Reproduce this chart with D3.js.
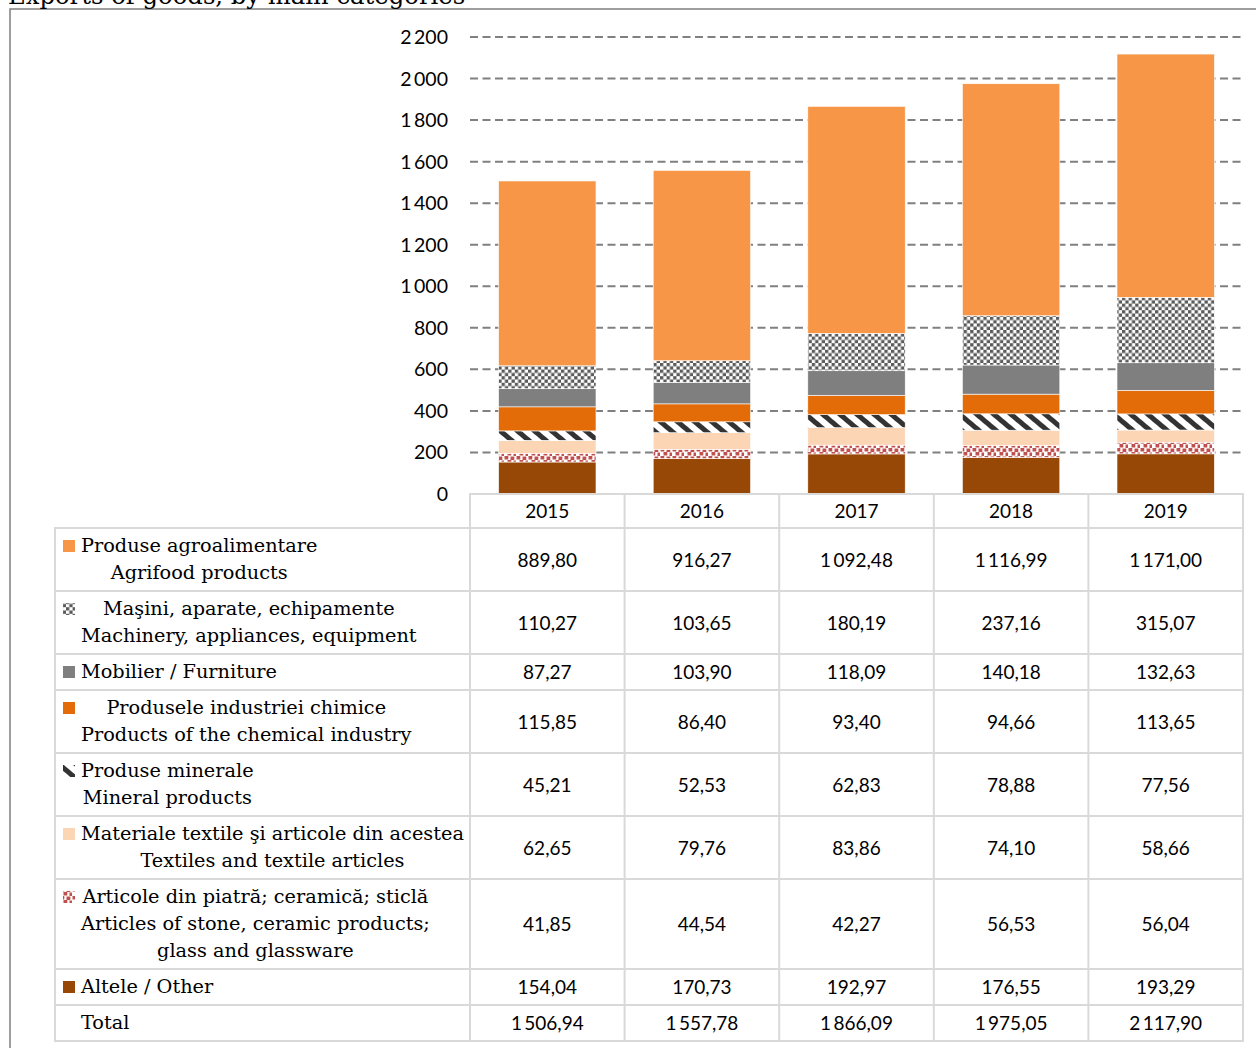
<!DOCTYPE html>
<html>
<head>
<meta charset="utf-8">
<script src="https://cdn.jsdelivr.net/npm/d3@7"></script>
<style>
  body { margin: 0; background: #fff; }
  svg { display: block; }
</style>
</head>
<body>
<svg id="chart"></svg>
<script>
// data
const years = ["2015", "2016", "2017", "2018", "2019"];
const agrifood  = [889.80, 916.27, 1092.48, 1116.99, 1171.00];
const machinery = [110.27, 103.65, 180.19, 237.16, 315.07];
const furniture = [87.27, 103.90, 118.09, 140.18, 132.63];
const chemical  = [115.85, 86.40, 93.40, 94.66, 113.65];
const mineral   = [45.21, 52.53, 62.83, 78.88, 77.56];
const textile   = [62.65, 79.76, 83.86, 74.10, 58.66];
const stone     = [41.85, 44.54, 42.27, 56.53, 56.04];
const other     = [154.04, 170.73, 192.97, 176.55, 193.29];
const totals    = [1506.94, 1557.78, 1866.09, 1975.05, 2117.90];
const yTicks = [0, 200, 400, 600, 800, 1000, 1200, 1400, 1600, 1800, 2000, 2200];

// series, in table order (top row first)
const series = [
  { key: "agrifood",  values: agrifood,  fill: "#F79646", lines: ["Produse agroalimentare", "Agrifood products"] },
  { key: "machinery", values: machinery, fill: "url(#pChecker)", lines: ["Maşini, aparate, echipamente", "Machinery, appliances, equipment"] },
  { key: "furniture", values: furniture, fill: "#7F7F7F", lines: ["Mobilier / Furniture"] },
  { key: "chemical",  values: chemical,  fill: "#E36C09", lines: ["Produsele industriei chimice", "Products of the chemical industry"] },
  { key: "mineral",   values: mineral,   fill: "url(#pStripe)", lines: ["Produse minerale", "Mineral products"] },
  { key: "textile",   values: textile,   fill: "#FCD5B5", lines: ["Materiale textile şi articole din acestea", "Textiles and textile articles"] },
  { key: "stone",     values: stone,     fill: "url(#pDots)", lines: ["Articole din piatră; ceramică; sticlă", "Articles of stone, ceramic products;", "glass and glassware"] },
  { key: "other",     values: other,     fill: "#974706", lines: ["Altele / Other"] }
];

const W = 1256, H = 1048;
const svg = d3.select("#chart").attr("width", W).attr("height", H);

const serif = "'DejaVu Serif', serif";
const sans = "Lato, 'Open Sans', sans-serif";

const loc = d3.formatLocale({ decimal: ",", thousands: "\u2009", grouping: [3] });
const fmtVal = loc.format(",.2f");
const fmtTick = loc.format(",d");

// patterns
const defs = svg.append("defs");
const pc = defs.append("pattern").attr("id", "pChecker")
  .attr("patternUnits", "userSpaceOnUse").attr("width", 6.6).attr("height", 6.6);
pc.append("rect").attr("width", 6.6).attr("height", 6.6).attr("fill", "#fff");
pc.append("rect").attr("width", 3.3).attr("height", 3.3).attr("fill", "#5a5a5a");
pc.append("rect").attr("x", 3.3).attr("y", 3.3).attr("width", 3.3).attr("height", 3.3).attr("fill", "#5a5a5a");

const ps = defs.append("pattern").attr("id", "pStripe")
  .attr("patternUnits", "userSpaceOnUse").attr("width", 11).attr("height", 11)
  .attr("patternTransform", "rotate(-50)");
ps.append("rect").attr("width", 11).attr("height", 11).attr("fill", "#fff");
ps.append("rect").attr("width", 5).attr("height", 11).attr("fill", "#333");

const pd = defs.append("pattern").attr("id", "pDots")
  .attr("patternUnits", "userSpaceOnUse").attr("width", 12).attr("height", 8);
pd.append("rect").attr("width", 12).attr("height", 8).attr("fill", "#fff");
[[0.5, 0], [6.5, 0.5], [3.5, 4], [9.5, 4.5]].forEach(p => {
  pd.append("rect").attr("x", p[0]).attr("y", p[1]).attr("width", 3.8).attr("height", 3.5).attr("fill", "#C0504D");
});

// outer frame and title (the title is cut at the top edge, as in the source)
svg.append("rect").attr("x", 10).attr("y", 9).attr("width", 1400).attr("height", 1200)
  .attr("fill", "none").attr("stroke", "#7f7f7f").attr("stroke-width", 1.5);
svg.append("text").attr("x", 8).attr("y", 4)
  .style("font-family", serif).style("font-size", "24.3px")
  .text("Exports of goods, by main categories");

// scales
const x = d3.scaleBand().domain(years).range([470, 1243]);
const y = d3.scaleLinear().domain([0, 2200]).range([494, 37]);

// gridlines
svg.append("g").selectAll("line")
  .data(yTicks.filter(d => d > 0))
  .join("line")
    .attr("x1", 470).attr("x2", 1243)
    .attr("y1", d => y(d)).attr("y2", d => y(d))
    .attr("stroke", "#808080").attr("stroke-width", 2)
    .attr("stroke-dasharray", "8,4.5");

// y tick labels
svg.append("g").selectAll("text")
  .data(yTicks)
  .join("text")
    .attr("x", 448).attr("y", d => y(d) + 7)
    .attr("text-anchor", "end")
    .style("font-family", sans).style("font-size", "19.5px")
    .text(d => fmtTick(d));

// stacked bars
const rows = years.map((yr, i) => {
  const o = { year: yr };
  series.forEach(s => o[s.key] = s.values[i]);
  return o;
});
const stackKeys = series.map(s => s.key).reverse();
const stacked = d3.stack().keys(stackKeys)(rows);
const fillOf = k => series.find(s => s.key === k).fill;
const barW = x.bandwidth() * 0.63;

svg.append("g").selectAll("g")
  .data(stacked)
  .join("g")
    .attr("fill", d => fillOf(d.key))
  .selectAll("rect")
  .data(d => d)
  .join("rect")
    .attr("x", d => x(d.data.year) + (x.bandwidth() - barW) / 2)
    .attr("width", barW)
    .attr("y", d => y(d[1]))
    .attr("height", d => y(d[0]) - y(d[1]))
    .attr("stroke", "#fff").attr("stroke-width", 0.6);

// table
const border = "#d9d9d9";
const tbl = svg.append("g");
const headTop = 494, bodyTop = 528, labelX0 = 55;

// header row
tbl.append("rect").attr("x", 470).attr("y", headTop).attr("width", 1243 - 470).attr("height", bodyTop - headTop)
  .attr("fill", "none").attr("stroke", border).attr("stroke-width", 2);
years.forEach(yr => {
  tbl.append("line").attr("x1", x(yr)).attr("x2", x(yr)).attr("y1", headTop).attr("y2", bodyTop)
    .attr("stroke", border).attr("stroke-width", 2);
  tbl.append("text").attr("x", x(yr) + x.bandwidth() / 2).attr("y", headTop + 24)
    .attr("text-anchor", "middle")
    .style("font-family", sans).style("font-size", "19px").text(yr);
});

const tableRows = series.map(s => ({ lines: s.lines, fill: s.fill, values: s.values }))
  .concat([{ lines: ["Total"], fill: null, values: totals }]);

let rowTop = bodyTop;
tableRows.forEach(r => {
  const h = 9 + 27 * r.lines.length;
  tbl.append("rect").attr("x", labelX0).attr("y", rowTop).attr("width", 1243 - labelX0).attr("height", h)
    .attr("fill", "none").attr("stroke", border).attr("stroke-width", 2);
  tbl.append("line").attr("x1", 470).attr("x2", 470).attr("y1", rowTop).attr("y2", rowTop + h)
    .attr("stroke", border).attr("stroke-width", 2);
  years.forEach((yr, i) => {
    tbl.append("line").attr("x1", x(yr)).attr("x2", x(yr)).attr("y1", rowTop).attr("y2", rowTop + h)
      .attr("stroke", border).attr("stroke-width", 2);
    tbl.append("text").attr("x", x(yr) + x.bandwidth() / 2).attr("y", rowTop + h / 2 + 7)
      .attr("text-anchor", "middle")
      .style("font-family", sans).style("font-size", "19px")
      .text(fmtVal(r.values[i]));
  });
  if (r.fill) {
    tbl.append("rect").attr("x", 63).attr("y", rowTop + 12).attr("width", 12).attr("height", 12)
      .attr("fill", r.fill);
  }
  // label lines, centred on the widest line which starts at x = 81
  const lab = tbl.append("g");
  const texts = r.lines.map((t, j) => lab.append("text")
    .attr("y", rowTop + 24 + 27 * j)
    .style("font-family", serif).style("font-size", "19.3px")
    .text(t));
  const maxW = d3.max(texts, t => t.node().getComputedTextLength());
  texts.forEach(t => t.attr("x", 81 + maxW / 2).attr("text-anchor", "middle"));
  rowTop += h;
});
</script>
</body>
</html>
